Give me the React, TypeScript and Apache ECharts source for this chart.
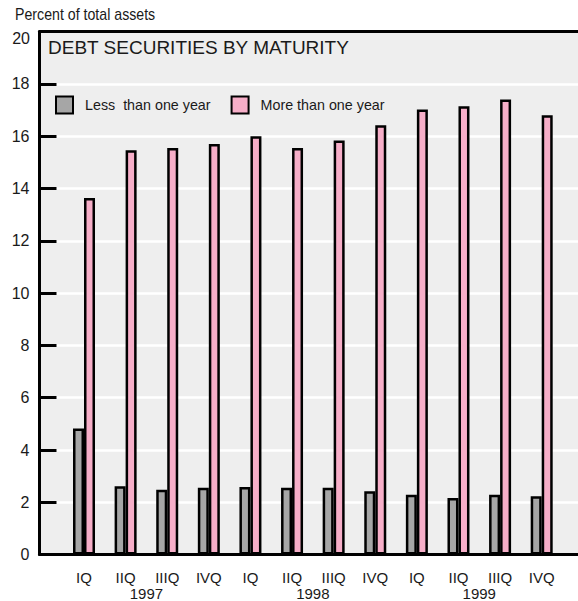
import React, { useEffect, useRef } from "react";
import * as echarts from "echarts";

const quarters = ["IQ", "IIQ", "IIIQ", "IVQ", "IQ", "IIQ", "IIIQ", "IVQ", "IQ", "IIQ", "IIIQ", "IVQ"];
const years = ["1997", "1998", "1999"];
const lessThanOneYear = [4.82, 2.61, 2.48, 2.55, 2.58, 2.55, 2.55, 2.42, 2.29, 2.16, 2.29, 2.23];
const moreThanOneYear = [13.64, 15.46, 15.55, 15.7, 16.0, 15.55, 15.83, 16.42, 17.02, 17.14, 17.4, 16.8];
const yTicks = [0, 2, 4, 6, 8, 10, 12, 14, 16, 18, 20];

const NARROW = "'Liberation Sans Narrow', 'Arial Narrow', 'Liberation Sans', sans-serif";
const SANS = "'Liberation Sans', Arial, sans-serif";
const TXT = "#1a1a1a";

export default function App() {
  const ref = useRef<HTMLDivElement>(null);
  useEffect(() => {
    if (!ref.current) return;
    const chart = echarts.init(ref.current, undefined, { renderer: "svg" });
    const top = 31.6;
    const bottom = 46.4;
    chart.setOption({
      animation: false,
      backgroundColor: "#ffffff",
      grid: [
        { left: 39.5, right: 0, top, bottom, show: true, backgroundColor: "#eeeeee", borderWidth: 0 },
        { left: 63.2, right: 15.5, top, bottom, show: false },
      ],
      legend: {
        left: 50,
        top: 90.5,
        padding: 5,
        itemWidth: 17,
        itemHeight: 17,
        itemGap: 20,
        icon: "rect",
        itemStyle: { borderColor: "#000", borderWidth: 2 },
        textStyle: { fontFamily: NARROW, fontSize: 14.3, color: TXT, padding: [0, 0, 0, 7] },
        data: ["Less  than one year", "More than one year"],
      },
      xAxis: [
        {
          gridIndex: 0, type: "value", min: 0, max: 1, position: "bottom",
          axisLine: { show: true, lineStyle: { color: "#000", width: 3 } },
          axisTick: { show: false }, axisLabel: { show: false }, splitLine: { show: false },
        },
        {
          gridIndex: 0, type: "value", min: 0, max: 1, position: "top",
          axisLine: { show: true, lineStyle: { color: "#000", width: 3 } },
          axisTick: { show: false }, axisLabel: { show: false }, splitLine: { show: false },
        },
        {
          gridIndex: 1, type: "category", data: quarters, position: "bottom",
          axisLine: { show: false }, axisTick: { show: false },
          axisLabel: { fontFamily: NARROW, fontSize: 15, color: TXT, margin: 15 },
        },
        {
          gridIndex: 1, type: "category", data: years, position: "bottom", offset: 16.5,
          axisLine: { show: false }, axisTick: { show: false },
          axisLabel: { fontFamily: NARROW, fontSize: 15, color: TXT, margin: 15 },
        },
      ],
      yAxis: [
        {
          gridIndex: 0, type: "value", min: yTicks[0], max: yTicks[yTicks.length - 1], interval: 2,
          axisLine: { show: true, lineStyle: { color: "#000", width: 3 } },
          axisTick: { show: true, inside: true, length: 17, lineStyle: { color: "#000", width: 3 } },
          axisLabel: { fontFamily: NARROW, fontSize: 16, color: TXT, margin: 10, showMaxLabel: false },
          splitLine: { show: true, lineStyle: { color: "#ffffff", width: 2.5 } },
        },
        {
          gridIndex: 1, type: "value", min: yTicks[0], max: yTicks[yTicks.length - 1], interval: 2,
          show: false, splitLine: { show: false },
        },
      ],
      series: [
        {
          name: "Less  than one year", type: "bar", xAxisIndex: 2, yAxisIndex: 1,
          data: lessThanOneYear, barWidth: 11, barGap: "0%",
          itemStyle: { color: "#a6a6a6", borderColor: "#000", borderWidth: 2.5 },
        },
        {
          name: "More than one year", type: "bar", xAxisIndex: 2, yAxisIndex: 1,
          data: moreThanOneYear, barWidth: 11, barGap: "0%",
          itemStyle: { color: "#f6aec8", borderColor: "#000", borderWidth: 2.5 },
        },
      ],
      graphic: [
        {
          type: "text", x: 15, y: 14, scaleX: 0.886,
          style: { text: "Percent of total assets", fontFamily: NARROW, fontSize: 16, fill: TXT, verticalAlign: "middle" },
        },
        {
          type: "text", x: 30, y: 38,
          style: { text: String(yTicks[yTicks.length - 1]), fontFamily: NARROW, fontSize: 16, fill: TXT, align: "right", verticalAlign: "middle" },
        },
        {
          type: "text", x: 48, y: 47,
          style: { text: "DEBT SECURITIES BY MATURITY", fontFamily: SANS, fontSize: 19, fill: TXT, verticalAlign: "middle" },
        },
      ],
    });
    return () => chart.dispose();
  }, []);
  return <div ref={ref} style={{ position: "absolute", left: 0, top: 0, width: 578, height: 601 }} />;
}
